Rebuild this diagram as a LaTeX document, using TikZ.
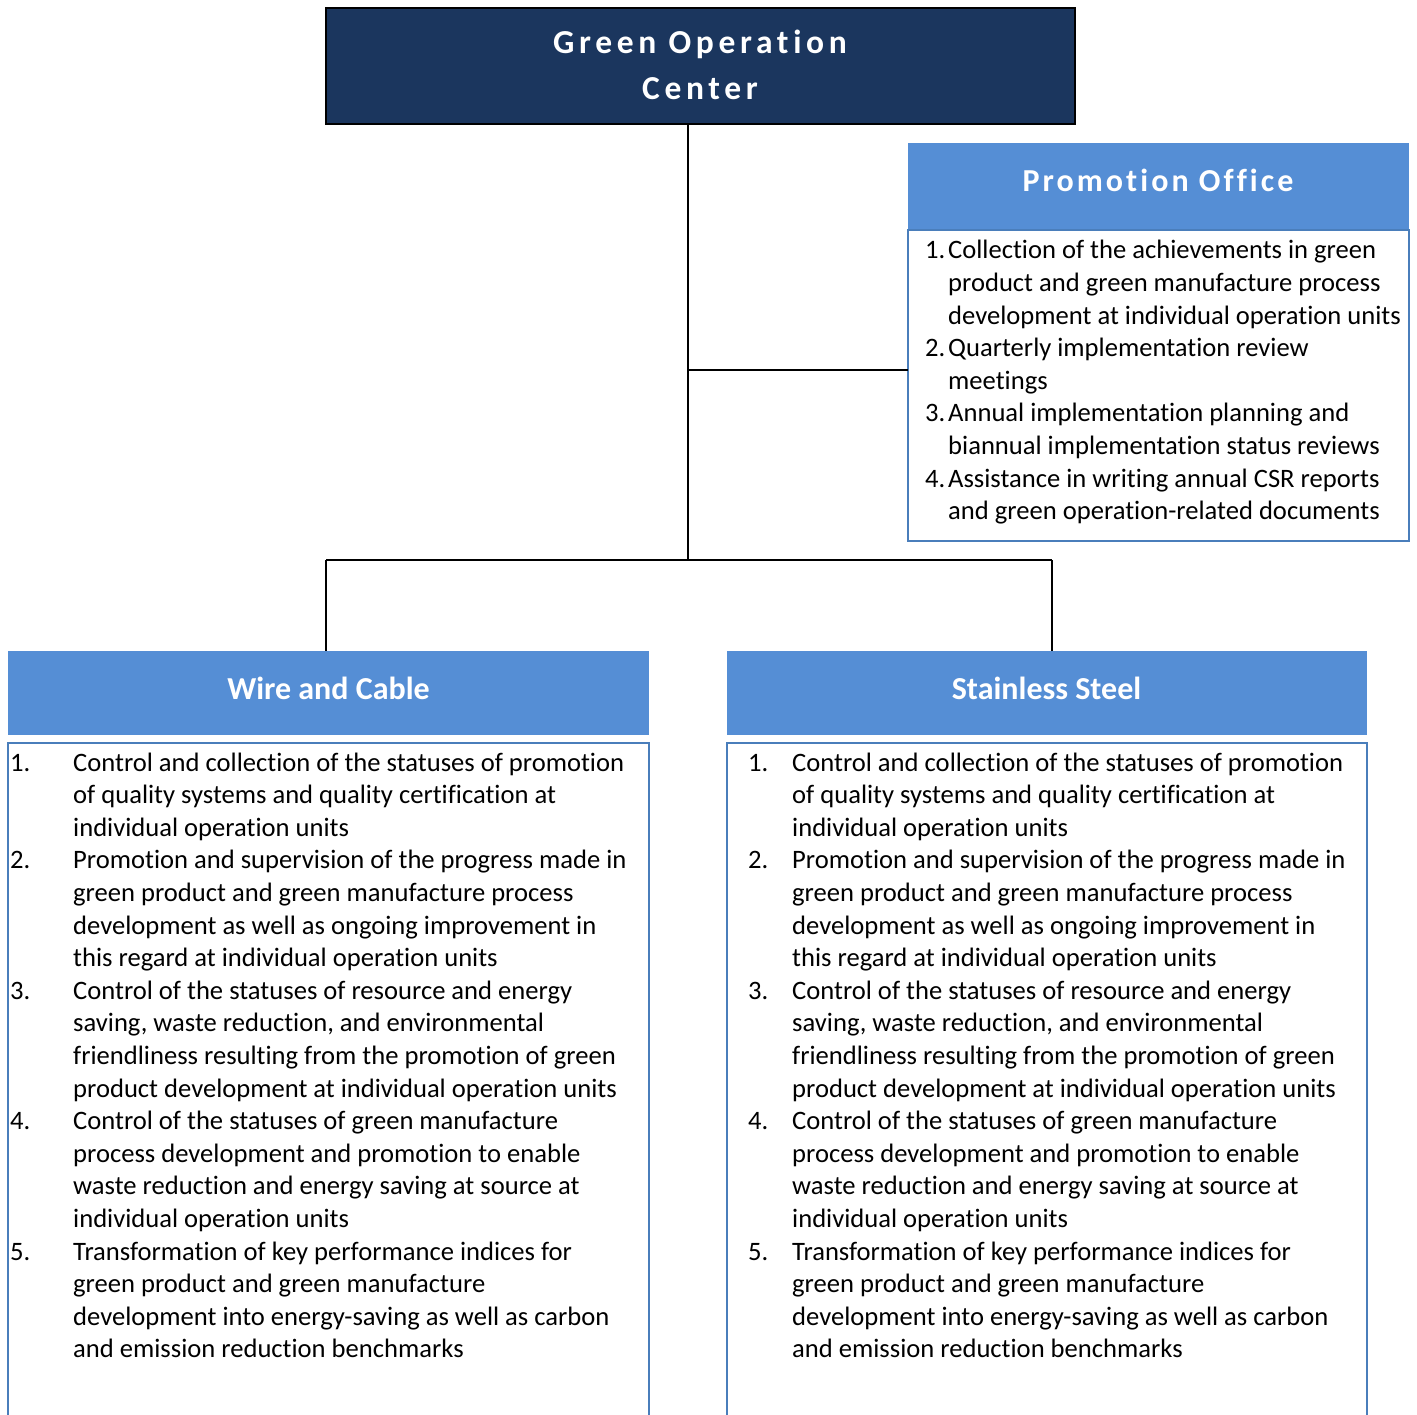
\documentclass[tikz,border=0pt]{standalone}
\usepackage{fontspec}
\setmainfont{Carlito}[Ligatures=NoCommon]
\newfontfamily\titlefont[LetterSpace=14,Ligatures=NoCommon]{Carlito}
\newfontfamily\officefont[LetterSpace=9.5,Ligatures=NoCommon]{Carlito}
\definecolor{navy}{HTML}{1B365E}
\definecolor{hblue}{HTML}{558ED5}
\definecolor{bblue}{HTML}{4A7EBB}
\newcommand\hitem[4]{\noindent\makebox[#1][l]{#2}\parbox[t]{#3}{\raggedright #4\strut}\par\prevdepth=\dp\strutbox}
\newcommand\bodyfont{\fontsize{26.6}{32.6}\selectfont}
\tikzset{
  box/.style={rectangle, anchor=north west, inner sep=0pt, outer sep=0pt},
  hdr/.style={box, fill=hblue},
  bodybox/.style={box, draw=bblue, line width=1.5pt, fill=white},
  conn/.style={draw=black, line width=2pt},
  htext/.style={anchor=base, inner sep=0pt, text=white, font=\fontsize{32}{38}\selectfont\bfseries},
  btext/.style={anchor=base west, inner sep=0pt, text=black}
}
\begin{document}
\begin{tikzpicture}[x=1pt,y=-1pt]
\useasboundingbox (0,0) rectangle (1417,1415);
\clip (0,0) rectangle (1417,1415);
\fill[white] (0,0) rectangle (1417,1415);

% junction coordinates
\coordinate (j1) at (688,370);
\coordinate (j2) at (688,560);
\coordinate (j3) at (326,560);
\coordinate (j4) at (1052,560);

% boxes
\node[box, fill=navy, draw=black, line width=2pt, minimum width=749pt, minimum height=116pt] (top) at (326,8) {};
\node[hdr, minimum width=501pt, minimum height=87pt] (promh) at (908,143) {};
\node[bodybox, minimum width=501pt, minimum height=311pt] (promb) at (908,230) {};
\node[hdr, minimum width=641pt, minimum height=84pt] (wireh) at (8,651) {};
\node[bodybox, minimum width=641pt, minimum height=720pt] (wireb) at (8,743) {};
\node[hdr, minimum width=640pt, minimum height=84pt] (steelh) at (727,651) {};
\node[bodybox, minimum width=640pt, minimum height=720pt] (steelb) at (727,743) {};

% connectors
\draw[conn] (top.south -| j2) -- (j2);
\draw[conn] (j1) -- (j1 -| promb.west);
\draw[conn] (j3) -- (j4);
\draw[conn] (j3) -- (j3 |- wireh.north);
\draw[conn] (j4) -- (j4 |- steelh.north);

% header texts
\node[anchor=base, inner sep=0pt, text=white] (toptext) at (700,54)
  {\parbox[t]{700pt}{\centering\titlefont\bfseries\fontsize{33.5}{46}\selectfont Green Operation\\Center}};
\node[anchor=base, inner sep=0pt, text=white] (promt) at (1158,192)
  {\officefont\bfseries\fontsize{32}{38}\selectfont Promotion Office};
\node[htext] (wiret) at (328.5,699) {Wire and Cable};
\node[htext] (steelt) at (1046.5,699) {Stainless Steel};

% promotion body
\node[btext] (promtext) at (925,259) {\parbox[t]{490pt}{\bodyfont
\hitem{23pt}{1.}{470pt}{Collection of the achievements in green\\product and green manufacture process\\development at individual operation units}
\hitem{23pt}{2.}{470pt}{Quarterly implementation review\\meetings}
\hitem{23pt}{3.}{470pt}{Annual implementation planning and\\biannual implementation status reviews}
\hitem{23pt}{4.}{470pt}{Assistance in writing annual CSR reports\\and green operation-related documents}
}};

% wire body
\node[btext] (wiretext) at (10,771) {\parbox[t]{640pt}{\bodyfont
\hitem{63pt}{1.}{570pt}{Control and collection of the statuses of promotion\\of quality systems and quality certification at\\individual operation units}
\hitem{63pt}{2.}{570pt}{Promotion and supervision of the progress made in\\green product and green manufacture process\\development as well as ongoing improvement in\\this regard at individual operation units}
\hitem{63pt}{3.}{570pt}{Control of the statuses of resource and energy\\saving, waste reduction, and environmental\\friendliness resulting from the promotion of green\\product development at individual operation units}
\hitem{63pt}{4.}{570pt}{Control of the statuses of green manufacture\\process development and promotion to enable\\waste reduction and energy saving at source at\\individual operation units}
\hitem{63pt}{5.}{570pt}{Transformation of key performance indices for\\green product and green manufacture\\development into energy-saving as well as carbon\\and emission reduction benchmarks}
}};

% steel body
\node[btext] (steeltext) at (748,771) {\parbox[t]{640pt}{\bodyfont
\hitem{44pt}{1.}{570pt}{Control and collection of the statuses of promotion\\of quality systems and quality certification at\\individual operation units}
\hitem{44pt}{2.}{570pt}{Promotion and supervision of the progress made in\\green product and green manufacture process\\development as well as ongoing improvement in\\this regard at individual operation units}
\hitem{44pt}{3.}{570pt}{Control of the statuses of resource and energy\\saving, waste reduction, and environmental\\friendliness resulting from the promotion of green\\product development at individual operation units}
\hitem{44pt}{4.}{570pt}{Control of the statuses of green manufacture\\process development and promotion to enable\\waste reduction and energy saving at source at\\individual operation units}
\hitem{44pt}{5.}{570pt}{Transformation of key performance indices for\\green product and green manufacture\\development into energy-saving as well as carbon\\and emission reduction benchmarks}
}};
\end{tikzpicture}
\end{document}
